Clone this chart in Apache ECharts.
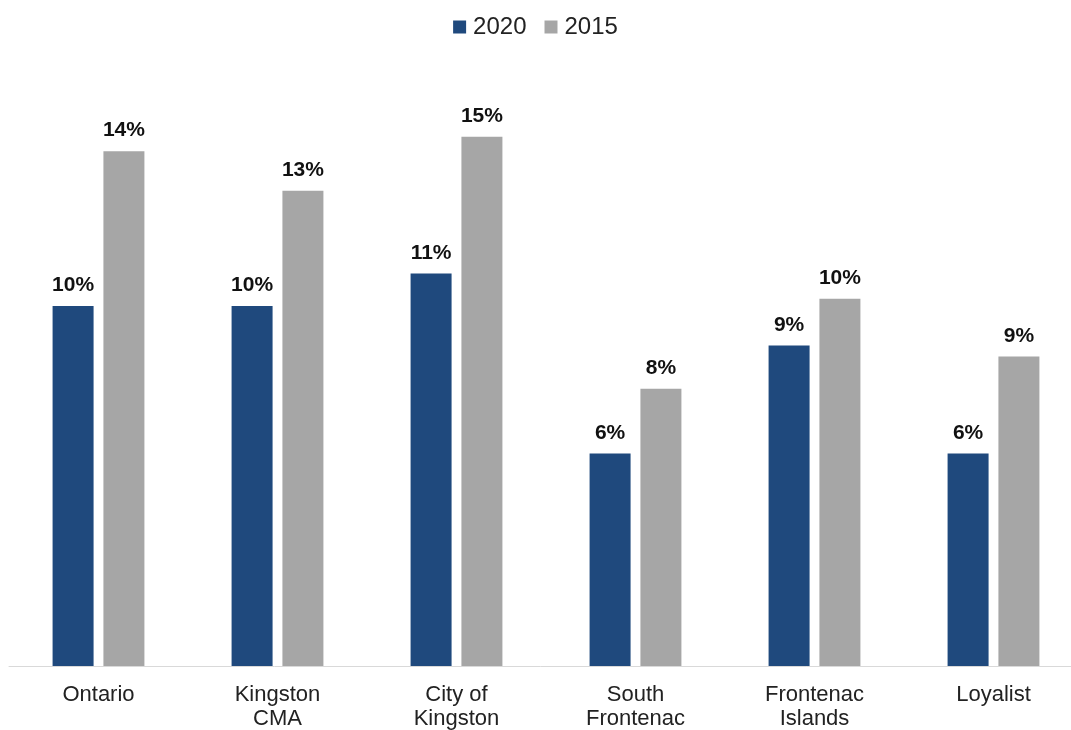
<!DOCTYPE html>
<html>
<head>
<meta charset="utf-8">
<script src="https://cdn.jsdelivr.net/npm/echarts@6/dist/echarts.min.js"></script>
<style>
  html, body { margin: 0; padding: 0; background: #ffffff; }
  #chart { width: 1071px; height: 730px; }
</style>
</head>
<body>
<div id="chart"></div>
<script>
// Share of population by region, 2020 vs 2015 (percent)
const categories = ['Ontario', 'Kingston\nCMA', 'City of\nKingston', 'South\nFrontenac', 'Frontenac\nIslands', 'Loyalist'];
const values2020 = [10.0, 10.0, 10.9, 5.9, 8.9, 5.9];
const values2015 = [14.3, 13.2, 14.7, 7.7, 10.2, 8.6];
const seriesNames = ['2020', '2015'];

const FONT = '"Liberation Sans", Arial, Helvetica, sans-serif';

const valueLabel = {
  show: true,
  position: 'top',
  distance: 10,
  fontFamily: FONT,
  fontSize: 21,
  fontWeight: 'bold',
  color: '#111111',
  formatter: p => Math.round(p.value) + '%'
};

const chart = echarts.init(document.getElementById('chart'), null, { renderer: 'canvas' });
chart.setOption({
  animation: false,
  backgroundColor: '#ffffff',
  legend: {
    top: 10,
    left: 'center',
    itemWidth: 13,
    itemHeight: 13,
    itemGap: 18,
    icon: 'rect',
    textStyle: { fontFamily: FONT, fontSize: 24, color: '#222222', padding: [0, 0, 0, 2] },
    data: seriesNames
  },
  // the plot area runs slightly past the right edge of the canvas
  grid: {
    left: 9, right: -12, top: 90, bottom: 64,
    containLabel: false,
    outerBoundsMode: 'none'
  },
  xAxis: {
    type: 'category',
    data: categories,
    axisLine: { show: true, lineStyle: { color: '#d9d9d9', width: 1 } },
    axisTick: { show: false },
    axisLabel: {
      margin: 17,
      fontFamily: FONT,
      fontSize: 22,
      lineHeight: 24,
      color: '#222222',
      interval: 0
    }
  },
  yAxis: {
    type: 'value',
    min: 0,
    max: 16,
    show: false,
    splitLine: { show: false }
  },
  series: [
    {
      name: seriesNames[0],
      type: 'bar',
      data: values2020,
      barWidth: 41,
      barGap: '24%',
      itemStyle: { color: '#1f497d' },
      label: valueLabel
    },
    {
      name: seriesNames[1],
      type: 'bar',
      data: values2015,
      barWidth: 41,
      barGap: '24%',
      itemStyle: { color: '#a6a6a6' },
      label: valueLabel
    }
  ]
});
</script>
</body>
</html>
